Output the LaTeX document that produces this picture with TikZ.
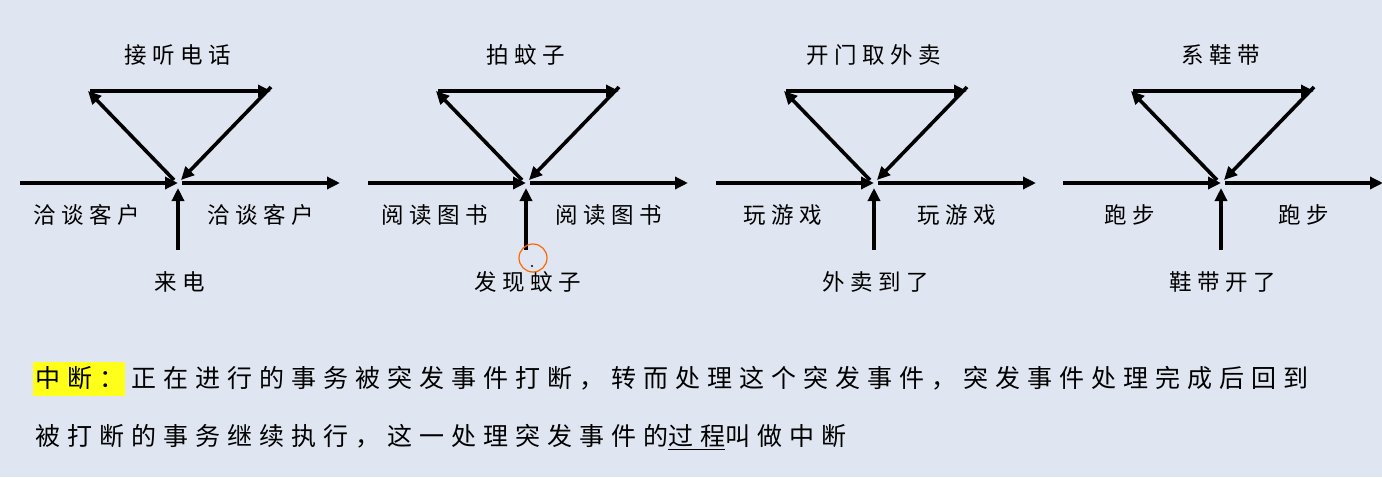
\documentclass[tikz,border=0pt]{standalone}
\usepackage{fontspec}
\setmainfont{Noto Sans CJK SC}[LetterSpace=24]
\newfontfamily\bodyfont{Noto Sans CJK SC}[LetterSpace=28]
\usetikzlibrary{arrows.meta}
\definecolor{bg}{HTML}{DFE6F1}
\definecolor{hl}{HTML}{FFFF1A}
\begin{document}
\begin{tikzpicture}[x=1pt,y=-1pt,
  arr/.style={line width=3.6pt,-{Triangle[length=13pt,width=12pt]}},
  lbl/.style={font=\fontsize{22.5}{24}\selectfont,inner sep=0pt},
  txt/.style={font=\bodyfont\fontsize{25}{28}\selectfont,inner sep=0pt,anchor=west}]
\fill[bg] (0,0) rectangle (1382,477);
\useasboundingbox (0,0) rectangle (1382,477);
\foreach \dx/\t/\l/\b [count=\i] in {0/接听电话/洽谈客户/来电, 348/拍蚊子/阅读图书/发现蚊子, 696/开门取外卖/玩游戏/外卖到了, 1043/系鞋带/跑步/鞋带开了}{
  \begin{scope}[xshift=\dx pt]
  \coordinate (j\i) at (178,183);
  \coordinate (s\i) at (20,183);
  \coordinate (e\i) at (340,183);
  \coordinate (jr\i) at (182,183);
  \coordinate (v\i) at (178,250);
  \coordinate (vt\i) at (178,188);
  \coordinate (tl\i) at (88,91);
  \coordinate (tr\i) at (271,91);
  \coordinate (dl\i) at (174,180);
  \coordinate (dr\i) at (181,180);
  \draw[arr] (s\i) -- (j\i);
  \draw[arr] (jr\i) -- (e\i);
  \draw[arr] (v\i) -- (vt\i);
  \draw[arr] (dl\i) -- (tl\i);
  \draw[arr] ([xshift=2pt]tl\i) -- (tr\i);
  \draw[arr] ([yshift=4pt]tr\i) -- (dr\i);
  \node[lbl] (T\i) at (178,55) {\t};
  \node[lbl] (L\i) at (87,215) {\l};
  \node[lbl] (R\i) at (261,215) {\l};
  \node[lbl] (B\i) at (180,282) {\b};
  \end{scope}
}
\node[draw=orange!80!red,line width=1.2pt,circle,minimum size=28pt,inner sep=0pt] (cur) at (533,258) {};
\fill[black] (532,266) circle (1.2pt);
\fill[hl] (33,362) rectangle (125,396);
\node[txt] (line1) at (35,378) {中断：正在进行的事务被突发事件打断，转而处理这个突发事件，突发事件处理完成后回到};
\node[txt] (line2) at (35,437) {被打断的事务继续执行，这一处理突发事件的\underline{过程}叫做中断};
\end{tikzpicture}
\end{document}
